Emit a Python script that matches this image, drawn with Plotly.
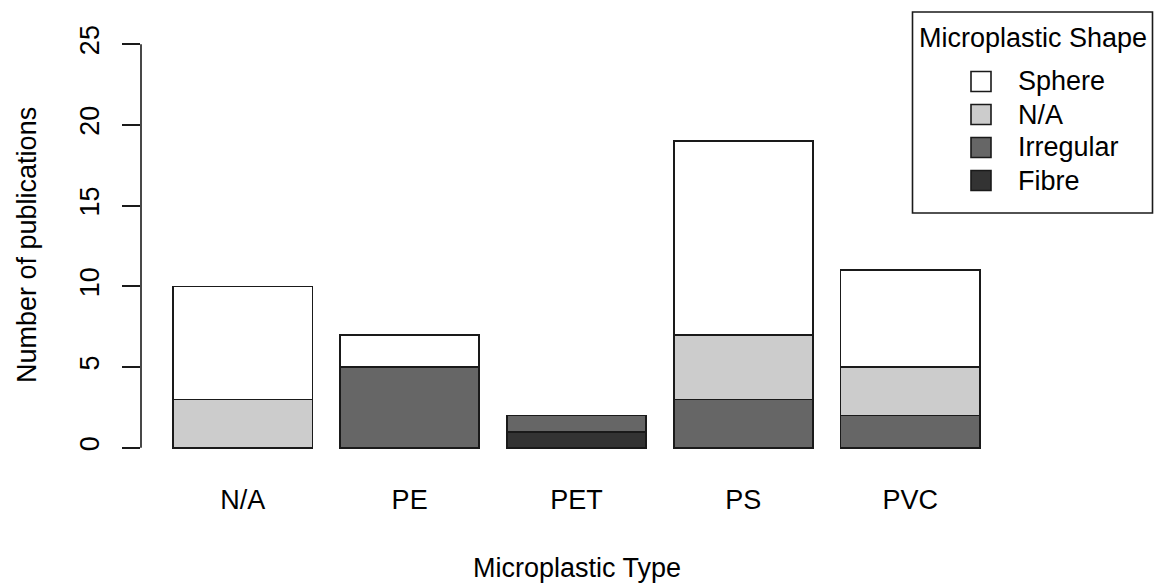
import plotly.graph_objects as go

# Publication counts per microplastic type, split by particle shape
types = ["N/A", "PE", "PET", "PS", "PVC"]
fibre = [0, 0, 1, 0, 0]
irregular = [0, 5, 1, 3, 2]
shape_na = [3, 0, 0, 4, 3]
sphere = [7, 2, 0, 12, 6]

shapes_order = ["Fibre", "Irregular", "N/A", "Sphere"]
shape_colors = {"Fibre": "#333333", "Irregular": "#666666", "N/A": "#CCCCCC", "Sphere": "#FFFFFF"}
series = {"Fibre": fibre, "Irregular": irregular, "N/A": shape_na, "Sphere": sphere}

y_ticks = [0, 5, 10, 15, 20, 25]

# bar centres follow R barplot spacing (width 1, space 0.2)
centers = [0.7 + 1.2 * i for i in range(len(types))]

W, H = 1154, 583
L, R, T, B = 141, 142, 28, 119
PW = W - L - R
PH = H - T - B
FONT = "Liberation Sans, Arial, sans-serif"
FS = 27
INK = "#1a1a1a"


def px_x(px):
    return (px - L) / PW


def px_y(py):
    return 1 - (py - T) / PH


fig = go.Figure()
for name in shapes_order:
    fig.add_trace(go.Bar(
        x=centers, y=series[name], width=1.0, name=name,
        marker=dict(color=shape_colors[name], line=dict(color=INK, width=1.6)),
        showlegend=False,
    ))

fig.update_layout(
    barmode="stack",
    width=W, height=H,
    margin=dict(l=L, r=R, t=T, b=B, pad=0),
    paper_bgcolor="white", plot_bgcolor="white",
    font=dict(family=FONT, size=FS, color="black"),
    xaxis=dict(
        range=[-0.032, 6.232], showgrid=False, zeroline=False, showline=False,
        tickvals=centers, ticktext=types, ticks="", ticklabelstandoff=17,
        tickfont=dict(size=FS, family=FONT, color="black"),
    ),
    yaxis=dict(
        range=[-1, 26], showgrid=False, zeroline=False, showline=False,
        tickvals=y_ticks, ticktext=[str(v) for v in y_ticks],
        ticks="outside", ticklen=18, tickwidth=1.6, tickcolor=INK,
        tickangle=-90, ticklabelstandoff=12,
        tickfont=dict(size=FS, family=FONT, color="black"),
    ),
)

# y axis line spanning only the tick range
fig.add_shape(type="line", xref="paper", yref="y", x0=0, x1=0,
              y0=y_ticks[0], y1=y_ticks[-1], line=dict(color=INK, width=1.6))

# axis titles
fig.add_annotation(text="Microplastic Type", xref="paper", yref="paper",
                   x=px_x(577), y=px_y(568), xanchor="center", yanchor="middle",
                   showarrow=False, font=dict(size=FS, family=FONT, color="black"))
fig.add_annotation(text="Number of publications", xref="paper", yref="paper",
                   x=px_x(27), y=px_y(245), xanchor="center", yanchor="middle",
                   textangle=-90, showarrow=False,
                   font=dict(size=FS, family=FONT, color="black"))

# legend box drawn in the top-right corner
fig.add_shape(type="rect", xref="paper", yref="paper",
              x0=px_x(912.5), x1=px_x(1152.5), y0=px_y(213), y1=px_y(12),
              line=dict(color=INK, width=1.6), fillcolor="white", layer="above")
fig.add_annotation(text="Microplastic Shape", xref="paper", yref="paper",
                   x=px_x(1033), y=px_y(38), xanchor="center", yanchor="middle",
                   showarrow=False, font=dict(size=FS, family=FONT, color="black"))
legend_rows = list(reversed(shapes_order))
row_y = [81.5, 114.5, 147.5, 180.5]
for name, cy in zip(legend_rows, row_y):
    fig.add_shape(type="rect", xref="paper", yref="paper",
                  x0=px_x(971), x1=px_x(991), y0=px_y(cy + 10), y1=px_y(cy - 10),
                  line=dict(color=INK, width=1.6), fillcolor=shape_colors[name],
                  layer="above")
    fig.add_annotation(text=name, xref="paper", yref="paper",
                       x=px_x(1016), y=px_y(cy), xanchor="left", yanchor="middle",
                       showarrow=False, font=dict(size=FS, family=FONT, color="black"))

fig.write_html("out.html")
